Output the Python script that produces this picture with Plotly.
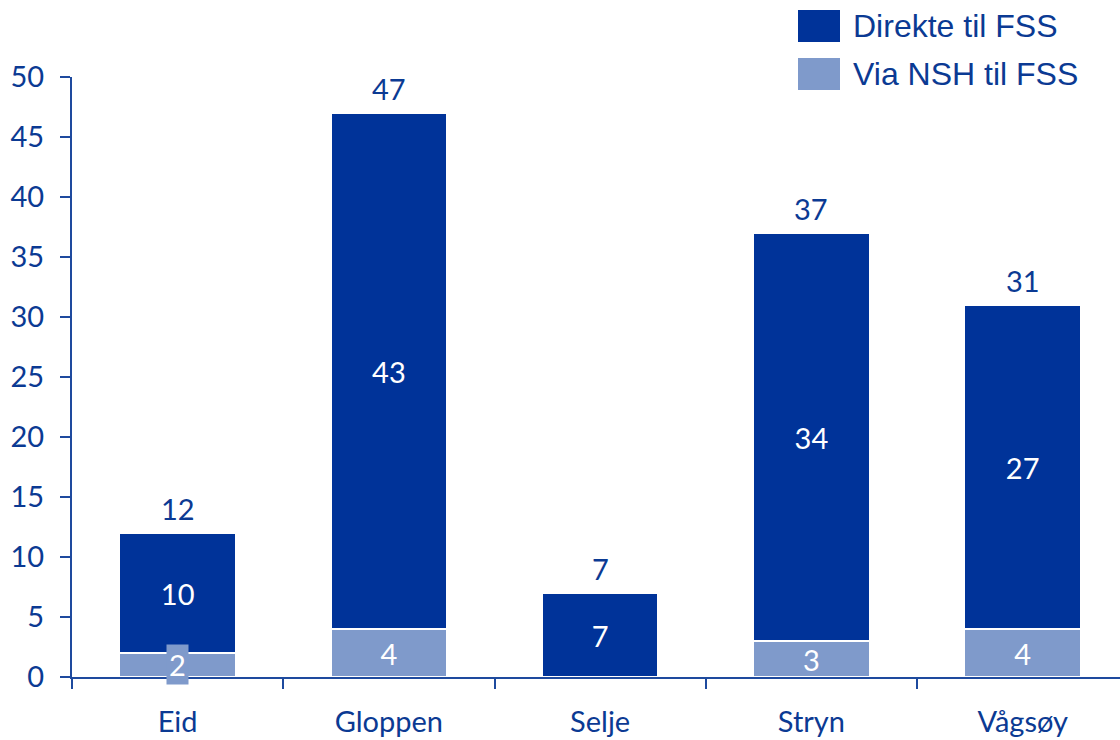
import plotly.graph_objects as go

categories = ["Eid", "Gloppen", "Selje", "Stryn", "Vågsøy"]
series_names = ["Direkte til FSS", "Via NSH til FSS"]
direkte = [10, 43, 7, 34, 27]
via_nsh = [2, 4, 0, 3, 4]
totals = [12, 47, 7, 37, 31]
y_ticks = [0, 5, 10, 15, 20, 25, 30, 35, 40, 45, 50]

DARK = "#003399"
LIGHT = "#7F9ACB"
TXT = "#0B3A93"
AXIS = "#1E4A9E"
FONT = "Lato"
FS = 29

W, H = 1120, 740
ML, MR, MT, MB = 72, 0, 77, 63
pw = W - ML - MR
ph = H - MT - MB
unit_px = 211.25
x_max = -0.5 + pw / unit_px
px_per_y = ph / 50.0

fig = go.Figure()

# light (bottom) series
light_text = [str(v) if v * px_per_y >= 34 else "" for v in via_nsh]
fig.add_trace(go.Bar(
    x=categories, y=via_nsh, name=series_names[1],
    marker=dict(color=LIGHT, line=dict(color="white", width=1.5)),
    width=0.55, text=light_text, textposition="inside",
    insidetextanchor="middle", textangle=0, constraintext="none",
    textfont=dict(family=FONT, size=FS, color="white"),
    showlegend=False, hoverinfo="skip",
))
fig.add_trace(go.Bar(
    x=categories, y=direkte, name=series_names[0],
    marker=dict(color=DARK, line=dict(color="white", width=1.5)),
    width=0.55, text=[str(v) for v in direkte], textposition="inside",
    insidetextanchor="middle", textangle=0, constraintext="none",
    textfont=dict(family=FONT, size=FS, color="white"),
    showlegend=False, hoverinfo="skip",
))

annotations = []
# small light labels with background box
for c, v in zip(categories, via_nsh):
    if v > 0 and v * px_per_y < 34:
        annotations.append(dict(
            x=c, y=v / 2, xref="x", yref="y", text=str(v), showarrow=False,
            font=dict(family=FONT, size=FS, color="white"),
            bgcolor=LIGHT, borderpad=2, yshift=1,
        ))
# totals above bars
for c, t in zip(categories, totals):
    annotations.append(dict(
        x=c, y=t, xref="x", yref="y", text=str(t), showarrow=False,
        font=dict(family=FONT, size=FS, color=TXT),
        yanchor="middle", yshift=25,
    ))

# custom legend
shapes = []
legend_rows = [(series_names[0], DARK, 10, 42), (series_names[1], LIGHT, 58, 90)]
for name, col, y0, y1 in legend_rows:
    shapes.append(dict(
        type="rect", xref="paper", yref="paper",
        x0=(798 - ML) / pw, x1=(840 - ML) / pw,
        y0=(H - MB - y1) / ph, y1=(H - MB - y0) / ph,
        fillcolor=col, line=dict(width=0),
    ))
    annotations.append(dict(
        x=(851 - ML) / pw, y=(H - MB - (y0 + y1) / 2) / ph,
        xref="paper", yref="paper", xanchor="left", yanchor="middle",
        text=name, showarrow=False,
        font=dict(family="Liberation Sans, Arial", size=32, color=TXT),
    ))

fig.update_layout(
    template="none",
    width=W, height=H,
    margin=dict(l=ML, r=MR, t=MT, b=MB, pad=0, autoexpand=False),
    barmode="stack",
    plot_bgcolor="white", paper_bgcolor="white",
    annotations=annotations, shapes=shapes,
    xaxis=dict(
        range=[-0.5, x_max], showgrid=False, zeroline=False, automargin=False,
        showline=True, linecolor=AXIS, linewidth=2,
        ticks="outside", tickson="boundaries", ticklen=10,
        tickcolor=AXIS, tickwidth=2, ticklabelstandoff=18,
        tickfont=dict(family=FONT, size=FS, color=TXT),
    ),
    yaxis=dict(
        range=[0, 50], tickvals=y_ticks, showgrid=False, zeroline=False,
        automargin=False,
        showline=True, linecolor=AXIS, linewidth=2,
        ticks="outside", ticklen=10, tickcolor=AXIS, tickwidth=2,
        ticklabelstandoff=10,
        tickfont=dict(family=FONT, size=FS, color=TXT),
    ),
)

fig.write_html("out.html", config={"displayModeBar": False},
               post_script="document.body.style.margin='0px';")
